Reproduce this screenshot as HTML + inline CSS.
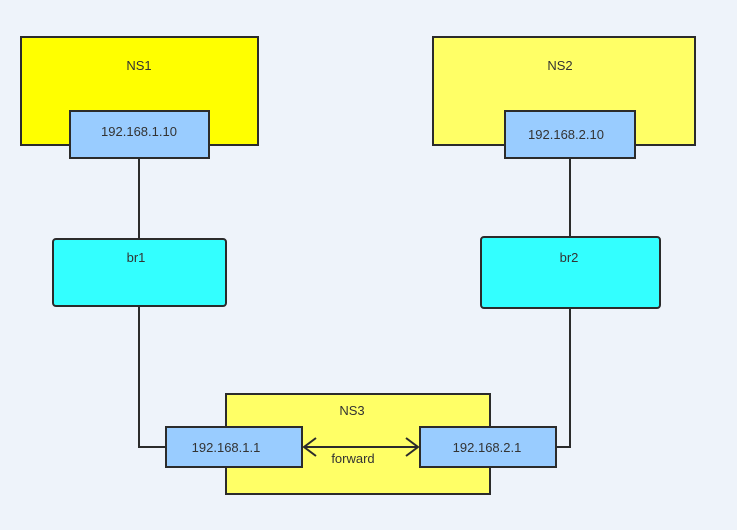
<!DOCTYPE html>
<html><head><meta charset="utf-8"><style>
html,body{margin:0;padding:0;background:#eef3fa;}
svg{display:block;}
text{font-family:"Liberation Sans",sans-serif;font-size:13px;fill:#333;}
</style></head><body>
<svg width="737" height="530" viewBox="0 0 737 530" xmlns="http://www.w3.org/2000/svg">
<rect x="0" y="0" width="737" height="530" fill="#eef3fa"/>
<g stroke="#2b2b2b" stroke-width="2">
<rect x="21" y="37" width="237" height="108" fill="#ffff00"/>
<rect x="433" y="37" width="262" height="108" fill="#ffff66"/>
<line x1="139" y1="158" x2="139" y2="239"/>
<line x1="570" y1="158" x2="570" y2="237"/>
<rect x="70" y="111" width="139" height="47" fill="#99ccff"/>
<rect x="505" y="111" width="130" height="47" fill="#99ccff"/>
<rect x="53" y="239" width="173" height="67" rx="3" fill="#33ffff"/>
<rect x="481" y="237" width="179" height="71" rx="3" fill="#33ffff"/>
<rect x="226" y="394" width="264" height="100" fill="#ffff66"/>
<polyline points="139,306 139,447 166,447" fill="none"/>
<polyline points="570,308 570,447 556,447" fill="none"/>
<rect x="166" y="427" width="136" height="40" fill="#99ccff"/>
<rect x="420" y="427" width="136" height="40" fill="#99ccff"/>
<line x1="304" y1="447" x2="418" y2="447"/>
<polyline points="316,438 304,447 316,456" fill="none"/>
<polyline points="406,438 418,447 406,456" fill="none"/>
</g>
<text x="139" y="70" text-anchor="middle">NS1</text>
<text x="560" y="70" text-anchor="middle">NS2</text>
<text x="139" y="136" text-anchor="middle">192.168.1.10</text>
<text x="566" y="139" text-anchor="middle">192.168.2.10</text>
<text x="136" y="262" text-anchor="middle">br1</text>
<text x="569" y="262" text-anchor="middle">br2</text>
<text x="352" y="415" text-anchor="middle">NS3</text>
<text x="226" y="452" text-anchor="middle">192.168.1.1</text>
<text x="487" y="452" text-anchor="middle">192.168.2.1</text>
<text x="353" y="463" text-anchor="middle">forward</text>
</svg>
</body></html>
